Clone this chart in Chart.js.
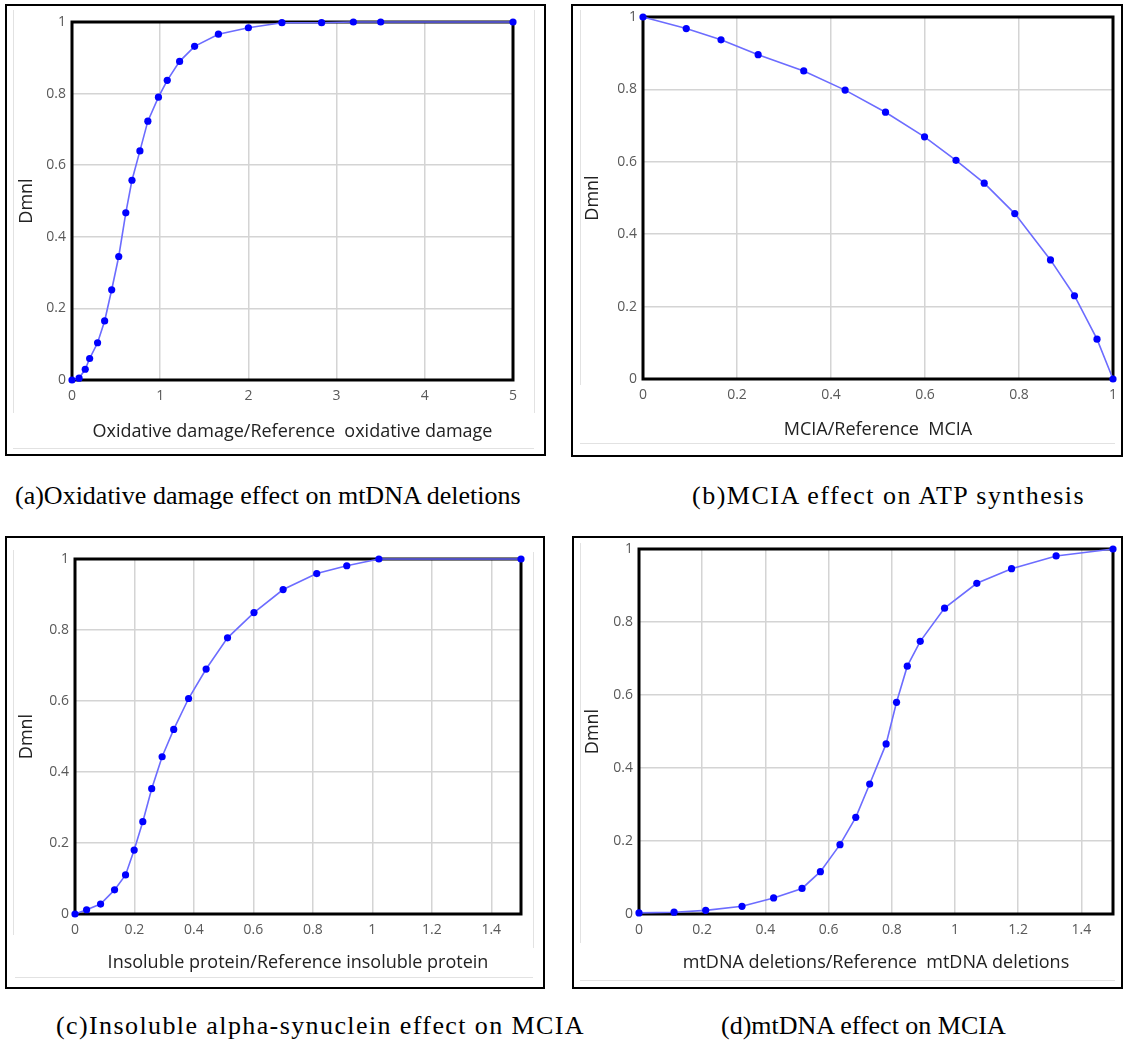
<!DOCTYPE html>
<html>
<head>
  <title>Effect lookup curves</title>
  <meta charset="utf-8">
  <style>
    body {
      margin: 0;
      background: #fff;
      width: 1124px;
      height: 1043px;
      position: relative;
      overflow: hidden;
    }
    .frame {
      position: absolute;
      border: 2px solid #000;
      box-sizing: border-box;
    }
    .win {
      position: absolute;
      background: #e2e2e2;
    }
    canvas {
      position: absolute;
    }
    .caption {
      position: absolute;
      font-family: 'Liberation Serif', 'Times New Roman', serif;
      font-size: 26px;
      line-height: 26px;
      white-space: nowrap;
      color: #000;
    }
  </style>
</head>
<body>
  <div class="frame" style="left:5px;top:4px;width:541px;height:452px;"></div>
  <div class="frame" style="left:571px;top:4px;width:552px;height:453px;"></div>
  <div class="frame" style="left:5px;top:536px;width:540px;height:453px;"></div>
  <div class="frame" style="left:572px;top:536px;width:551px;height:453px;"></div>

  <!-- faint edges of the simulator windows -->
  <div class="win" style="left:13px;top:10px;width:1px;height:403px;"></div>
  <div class="win" style="left:534px;top:10px;width:1px;height:403px;"></div>
  <div class="win" style="left:13px;top:448px;width:521px;height:1px;"></div>
  <div class="win" style="left:580px;top:10px;width:1px;height:375px;"></div>
  <div class="win" style="left:580px;top:443px;width:535px;height:1px;"></div>
  <div class="win" style="left:13px;top:550px;width:1px;height:385px;"></div>
  <div class="win" style="left:533px;top:552px;width:1px;height:396px;"></div>
  <div class="win" style="left:15px;top:977px;width:518px;height:1px;"></div>
  <div class="win" style="left:580px;top:543px;width:1px;height:400px;"></div>
  <div class="win" style="left:580px;top:980px;width:535px;height:1px;"></div>

  <canvas id="chartA" width="537" height="448" style="left:7px;top:6px;"></canvas>
  <canvas id="chartB" width="554" height="454" style="left:573px;top:1px;"></canvas>
  <canvas id="chartC" width="536" height="449" style="left:7px;top:538px;"></canvas>
  <canvas id="chartD" width="547" height="454" style="left:574px;top:533px;"></canvas>

  <div class="caption" style="left:15px;top:483px;">(a)Oxidative damage effect on mtDNA deletions</div>
  <div class="caption" style="left:692px;top:483px;letter-spacing:1.5px;">(b)MCIA effect on ATP synthesis</div>
  <div class="caption" style="left:56px;top:1013px;letter-spacing:1.4px;">(c)Insoluble alpha-synuclein effect on MCIA</div>
  <div class="caption" style="left:721px;top:1013px;">(d)mtDNA effect on MCIA</div>

  <script src="https://cdn.jsdelivr.net/npm/chart.js"></script>
  <script>
    // (a) oxidative damage -> mtDNA deletions
    const oxidX = [0, 0.08, 0.15, 0.2, 0.29, 0.37, 0.45, 0.53, 0.61, 0.68, 0.77, 0.86, 0.98, 1.08, 1.22, 1.39, 1.66, 2.0, 2.38, 2.83, 3.19, 3.5, 5];
    const oxidY = [0, 0.005, 0.03, 0.06, 0.104, 0.165, 0.252, 0.345, 0.467, 0.558, 0.64, 0.723, 0.79, 0.837, 0.89, 0.932, 0.966, 0.984, 0.998, 0.998, 1, 1, 1];

    // (b) MCIA -> ATP synthesis
    const mciaX = [0, 0.092, 0.166, 0.245, 0.342, 0.43, 0.516, 0.599, 0.666, 0.726, 0.791, 0.867, 0.918, 0.966, 1];
    const mciaY = [1, 0.968, 0.937, 0.896, 0.851, 0.798, 0.737, 0.669, 0.604, 0.541, 0.457, 0.329, 0.23, 0.11, 0];

    // (c) insoluble alpha-synuclein -> MCIA
    const insolX = [0, 0.039, 0.086, 0.133, 0.17, 0.199, 0.228, 0.258, 0.293, 0.332, 0.382, 0.441, 0.513, 0.602, 0.70, 0.813, 0.914, 1.022, 1.5];
    const insolY = [0, 0.012, 0.028, 0.068, 0.11, 0.18, 0.26, 0.353, 0.443, 0.52, 0.607, 0.69, 0.778, 0.849, 0.914, 0.959, 0.981, 1, 1];

    // (d) mtDNA deletions -> MCIA
    const mtdnaX = [0, 0.111, 0.211, 0.326, 0.426, 0.516, 0.574, 0.636, 0.686, 0.73, 0.782, 0.815, 0.849, 0.89, 0.967, 1.069, 1.179, 1.32, 1.5];
    const mtdnaY = [0.003, 0.005, 0.01, 0.021, 0.044, 0.07, 0.116, 0.19, 0.265, 0.356, 0.466, 0.58, 0.679, 0.747, 0.838, 0.906, 0.946, 0.981, 1];

    const xTitles = [
      'Oxidative damage/Reference  oxidative damage',
      'MCIA/Reference  MCIA',
      'Insoluble protein/Reference insoluble protein',
      'mtDNA deletions/Reference  mtDNA deletions'
    ];
    const yTitle = 'Dmnl';

    const tickFont = { family: "'Open Sans', 'DejaVu Sans', sans-serif", size: 14 };
    const titleFont = { family: "'Open Sans', 'DejaVu Sans', sans-serif", size: 18 };
    const gridColor = '#d4d4d4';

    // tick text like 0, 0.2 ... 1 (no trailing .0)
    const fmt = v => String(Number(v.toFixed(2)));

    // black box round the plot area, under the curve
    const plotBox = {
      id: 'plotBox',
      beforeDatasetsDraw(chart) {
        const { ctx, chartArea } = chart;
        ctx.save();
        ctx.strokeStyle = '#000';
        ctx.lineWidth = 3;
        ctx.strokeRect(chartArea.left, chartArea.top, chartArea.right - chartArea.left, chartArea.bottom - chartArea.top);
        ctx.restore();
      }
    };

    function makeChart(id, xs, ys, p) {
      return new Chart(document.getElementById(id), {
        type: 'scatter',
        data: {
          datasets: [{
            data: xs.map((x, i) => ({ x: x, y: ys[i] })),
            showLine: true,
            borderColor: '#6c6cff',
            borderWidth: 1.6,
            pointRadius: 3.6,
            pointBackgroundColor: '#0000ff',
            pointBorderColor: '#0000ff',
            pointBorderWidth: 0,
            clip: false
          }]
        },
        options: {
          responsive: false,
          animation: false,
          layout: { padding: { left: 0, top: p.top, right: p.right, bottom: 0 } },
          plugins: { legend: { display: false }, tooltip: { enabled: false } },
          scales: {
            x: {
              type: 'linear',
              min: 0,
              max: p.xMax,
              ticks: { stepSize: p.xStep, includeBounds: false, padding: 8, color: '#595959', font: tickFont, maxRotation: 0, callback: fmt },
              grid: { color: gridColor, lineWidth: 1.5, drawTicks: false },
              border: { display: false },
              title: { display: true, text: p.xTitle, color: '#222', font: titleFont, padding: { top: 0, bottom: p.xTitlePad } },
              afterFit: s => { s.height = p.xHeight; }
            },
            y: {
              min: 0,
              max: 1,
              ticks: { stepSize: 0.2, padding: 6, color: '#595959', font: tickFont, callback: fmt },
              grid: { color: gridColor, lineWidth: 1.5, drawTicks: false },
              border: { display: false },
              title: { display: true, text: yTitle, color: '#222', font: titleFont, padding: { top: p.yTitlePad, bottom: 0 } },
              afterFit: s => { s.width = p.yWidth; }
            }
          }
        },
        plugins: [plotBox]
      });
    }

    makeChart('chartA', oxidX, oxidY, { xMax: 5, xStep: 1, xTitle: xTitles[0], top: 16, right: 31, yWidth: 65, xHeight: 74, xTitlePad: 11, yTitlePad: 9 });
    makeChart('chartB', mciaX, mciaY, { xMax: 1, xStep: 0.2, xTitle: xTitles[1], top: 16, right: 14, yWidth: 70, xHeight: 76, xTitlePad: 14, yTitlePad: 9 });
    makeChart('chartC', insolX, insolY, { xMax: 1.5, xStep: 0.2, xTitle: xTitles[2], top: 21, right: 22, yWidth: 68, xHeight: 73, xTitlePad: 13, yTitlePad: 9 });
    makeChart('chartD', mtdnaX, mtdnaY, { xMax: 1.5, xStep: 0.2, xTitle: xTitles[3], top: 16, right: 8, yWidth: 65, xHeight: 73, xTitlePad: 13, yTitlePad: 8 });
  </script>
</body>
</html>
